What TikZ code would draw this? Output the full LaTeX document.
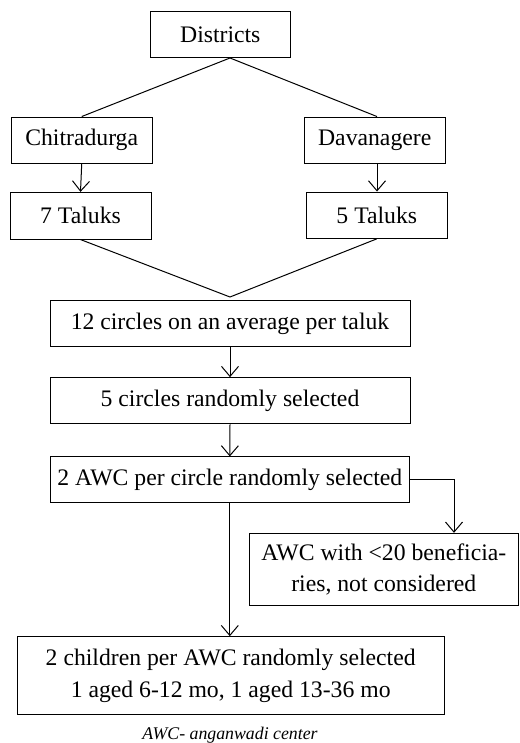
\documentclass[tikz,border=0pt]{standalone}
\usepackage{fontspec}
\setmainfont{Liberation Serif}
\usetikzlibrary{arrows.meta}

\begin{document}
\begin{tikzpicture}[x=1pt, y=-1pt, line width=1pt,
  >={Straight Barb[length=10pt,width=17pt]},
  box/.style={draw, inner sep=0pt, align=center, font=\fontsize{23.7}{31.5}\selectfont}]
\useasboundingbox (0,0) rectangle (519,743);

\node[box, minimum width=140.5, minimum height=46] (dist) at (220.3,35) {Districts};
\node[box, minimum width=141, minimum height=46.5] (chit) at (81.7,140.3) {Chitradurga};
\node[box, minimum width=140.7, minimum height=46.5] (dav) at (374.7,140.3) {Davanagere};
\node[box, minimum width=141, minimum height=46.7] (tal7) at (80.5,215.7) {7 Taluks};
\node[box, minimum width=141, minimum height=46.3] (tal5) at (376.8,215.2) {5 Taluks};

\node[box, minimum width=360, minimum height=46.3] (circ12) at (230,323.8) {12 circles on an average per taluk};
\node[box, minimum width=360, minimum height=46.3] (circ5) at (230,400.8) {5 circles randomly selected};
\node[box, minimum width=359.5, minimum height=45.7] (awc) at (229.8,479.8) {2 AWC per circle randomly selected};
\node[box, minimum width=269, minimum height=72.4] (excl) at (383.8,569.5) {AWC with <20 beneficia-\\ries, not considered};
\node[box, minimum width=427.3, minimum height=78] (kids) at (230.7,675.7) {2 children per AWC randomly selected\\1 aged 6-12 mo, 1 aged 13-36 mo};
\node[font=\fontsize{17.8}{20}\selectfont\itshape, inner sep=0pt] (note) at (230,735) {AWC- anganwadi center};

\coordinate (split) at (230,58);
\coordinate (merge) at (230,297);
\coordinate (bend) at (454,479.8);

\draw (chit.north) -- (split) -- ([xshift=2.3]dav.north);
\draw[->] (chit.south) -- (tal7.north);
\draw[->] ([xshift=2.3]dav.south) -- ([xshift=0.2]tal5.north);
\draw (tal7.south) -- (merge) -- (tal5.south);
\draw[->] (circ12.south) -- (circ5.north);
\draw[->] (circ5.south) -- (awc.north);
\draw[->] (awc.east) -- (bend) -- (bend |- excl.north);
\draw[->] (awc.south) -- (awc.south |- kids.north);
\end{tikzpicture}
\end{document}
